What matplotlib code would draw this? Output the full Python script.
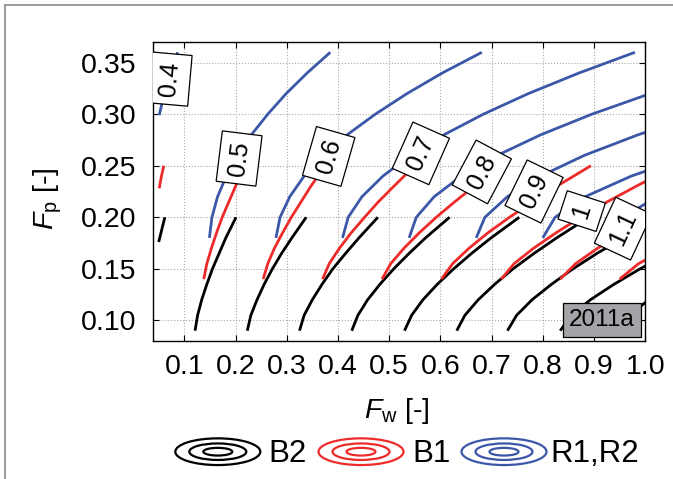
import numpy as np
import matplotlib
matplotlib.use("Agg")
import matplotlib.pyplot as plt
from matplotlib.patches import Ellipse

plt.rcParams['font.family'] = ['Liberation Sans', 'DejaVu Sans']
plt.rcParams['mathtext.fontset'] = 'custom'
plt.rcParams['mathtext.rm'] = 'Liberation Sans'
plt.rcParams['mathtext.it'] = 'Liberation Sans:italic'

#%% --- data ---

# B2 (black) contours: common F_p samples, one F_w row per level
b2_levels = [0.5, 0.6, 0.7, 0.8, 0.9, 1.0, 1.1, 1.2, 1.3]
b2_fp = [0.090, 0.105, 0.120, 0.135, 0.150, 0.165, 0.180, 0.200]
b2_fw = [
    [0.121, 0.126, 0.134, 0.144, 0.155, 0.168, 0.181, 0.201],
    [0.223, 0.230, 0.242, 0.256, 0.272, 0.290, 0.310, 0.338],
    [0.325, 0.334, 0.350, 0.369, 0.390, 0.415, 0.441, 0.478],
    [0.427, 0.439, 0.458, 0.482, 0.509, 0.539, 0.571, 0.618],
    [0.530, 0.544, 0.566, 0.594, 0.626, 0.661, 0.699, 0.754],
    [0.632, 0.648, 0.674, 0.706, 0.742, 0.783, 0.827, 0.890],
    [0.731, 0.749, 0.779, 0.817, 0.859, 0.906, 0.957, 1.030],
    [0.834, 0.856, 0.893, 0.939, 0.990, 1.048, 1.110, 1.200],
    [0.945, 0.969, 1.007, 1.055, 1.109, 1.170, 1.236, 1.330],
]
# 0.4 contour, only the piece inside the data range
b2_04_fp = [0.176, 0.188, 0.200]
b2_04_fw = [0.050, 0.056, 0.062]

# B1 (red)
b1_levels = [0.5, 0.6, 0.7, 0.8, 0.9, 1.0, 1.1, 1.2]
b1_fp = [0.140, 0.155, 0.170, 0.185, 0.200, 0.215, 0.230, 0.250]
b1_fw = [
    [0.138, 0.144, 0.153, 0.163, 0.174, 0.187, 0.200, 0.218],
    [0.254, 0.263, 0.276, 0.292, 0.309, 0.328, 0.347, 0.375],
    [0.370, 0.383, 0.403, 0.426, 0.452, 0.479, 0.509, 0.550],
    [0.486, 0.503, 0.529, 0.559, 0.592, 0.628, 0.666, 0.720],
    [0.602, 0.624, 0.656, 0.693, 0.735, 0.780, 0.827, 0.894],
    [0.719, 0.744, 0.782, 0.826, 0.874, 0.926, 0.982, 1.060],
    [0.834, 0.864, 0.907, 0.958, 1.014, 1.075, 1.139, 1.230],
    [0.950, 0.987, 1.043, 1.107, 1.177, 1.254, 1.335, 1.450],
]
b1_04_fp = [0.228, 0.239, 0.250]
b1_04_fw = [0.051, 0.055, 0.060]

# R1,R2 (blue)
r_levels = [0.5, 0.6, 0.7, 0.8, 0.9, 1.0, 1.1]
r_fp = [0.18, 0.20, 0.22, 0.24, 0.26, 0.28, 0.30, 0.32, 0.34, 0.36]
r_fw = [
    [0.149, 0.154, 0.165, 0.182, 0.204, 0.231, 0.263, 0.299, 0.340, 0.385],
    [0.279, 0.287, 0.306, 0.334, 0.372, 0.418, 0.473, 0.535, 0.604, 0.681],
    [0.409, 0.420, 0.447, 0.488, 0.541, 0.607, 0.684, 0.772, 0.871, 0.980],
    [0.539, 0.553, 0.588, 0.641, 0.711, 0.796, 0.896, 1.010, 1.138, 1.280],
    [0.670, 0.687, 0.731, 0.796, 0.881, 0.986, 1.109, 1.249, 1.406, 1.580],
    [0.800, 0.824, 0.883, 0.973, 1.090, 1.234, 1.403, 1.595, 1.811, 2.050],
    [0.930, 0.957, 1.023, 1.123, 1.255, 1.416, 1.605, 1.820, 2.063, 2.330],
]
r_04_fp = [0.299, 0.320, 0.340, 0.360]
r_04_fw = [0.051, 0.061, 0.073, 0.087]

# contour labels
label_text = ['0.4', '0.5', '0.6', '0.7', '0.8', '0.9', '1', '1.1']
label_fw = [0.072, 0.207, 0.382, 0.562, 0.681, 0.783, 0.876, 0.957]
label_fp = [0.334, 0.257, 0.259, 0.262, 0.244, 0.225, 0.206, 0.189]
label_rot = [85, 83, 74, 66, 62, 64, 72, 65]

x_ticks = [0.1, 0.2, 0.3, 0.4, 0.5, 0.6, 0.7, 0.8, 0.9, 1.0]
y_ticks = [0.10, 0.15, 0.20, 0.25, 0.30, 0.35]

legend_names = ['B2', 'B1', 'R1,R2']

BLACK = 'black'
RED = '#ee2b2b'
BLUE = '#3b57a8'
legend_colors = [BLACK, RED, BLUE]

#%% --- figure ---
W, H = 673, 479
fig = plt.figure(figsize=(W / 100, H / 100), dpi=100)

# overlay in pixel coordinates for the legend and the outer frame
ov = fig.add_axes([0, 0, 1, 1], zorder=-1)
ov.set_xlim(0, W)
ov.set_ylim(H, 0)
ov.axis('off')
ov.plot([5, 5], [H, 5], color='#8a8a8a', lw=1.2)
ov.plot([5, W], [5, 5], color='#8a8a8a', lw=1.2)

ax = fig.add_axes([152.7 / W, 1 - 341 / H, (645.2 - 152.7) / W, (341 - 42) / H])

LW = 2.0
for fw in b2_fw:
    ax.plot(fw, b2_fp, color=BLACK, lw=LW, solid_capstyle='butt')
ax.plot(b2_04_fw, b2_04_fp, color=BLACK, lw=LW, solid_capstyle='butt')
for fw in b1_fw:
    ax.plot(fw, b1_fp, color=RED, lw=LW, solid_capstyle='butt')
ax.plot(b1_04_fw, b1_04_fp, color=RED, lw=LW, solid_capstyle='butt')
for fw in r_fw:
    ax.plot(fw, r_fp, color=BLUE, lw=LW, solid_capstyle='butt')
ax.plot(r_04_fw, r_04_fp, color=BLUE, lw=LW, solid_capstyle='butt')

for s, x, y, r in zip(label_text, label_fw, label_fp, label_rot):
    ax.text(x, y, s, rotation=r, rotation_mode='anchor', ha='center', va='center',
            fontsize=18, zorder=5, clip_on=True,
            bbox=dict(boxstyle='square,pad=0.32', fc='white', ec='black', lw=0.9))

ax.text(0.915, 0.1003, '2011a', ha='center', va='center', fontsize=17.5, zorder=6,
        bbox=dict(boxstyle='square,pad=0.25', fc='#a2a4a7', ec='black', lw=0.9))

ax.set_xlim(0.0383, 1.0)
ax.set_ylim(0.08, 0.37)
ax.set_xticks(x_ticks)
ax.set_yticks(y_ticks)
ax.set_xticklabels([f'{v:.1f}' for v in x_ticks])
ax.set_yticklabels([f'{v:.2f}' for v in y_ticks])
ax.tick_params(direction='in', length=4.3, width=0.8, top=True, right=True, labelsize=20.5)
ax.tick_params(axis='x', pad=9)
ax.tick_params(axis='y', pad=12)
ax.grid(True, linestyle=':', color='#a8a8a8', linewidth=0.8)
ax.set_axisbelow(True)
for sp in ax.spines.values():
    sp.set_linewidth(1.0)

ax.set_xlabel(r'$\mathit{F}_\mathrm{w}$ [-]', fontsize=20.5, va='center')
ax.set_ylabel(r'$\mathit{F}_\mathrm{p}$ [-]', fontsize=20.5, va='center', ha='center')
ax.xaxis.set_label_coords(0.496, -0.234)
ax.yaxis.set_label_coords(-0.212, 0.475)

# legend with concentric ellipses
leg_cx = [217.8, 361.0, 504.0]
leg_tx = [268.7, 412.7, 550.0]
for cx, tx, name, col in zip(leg_cx, leg_tx, legend_names, legend_colors):
    for ew, eh in [(85, 26.7), (57, 16.5), (29, 7.7)]:
        ov.add_patch(Ellipse((cx, 451.7), ew, eh, fill=False, ec=col, lw=1.6))
    ov.text(tx, 461.7, name, ha='left', va='baseline', fontsize=22.5)

fig.savefig('out.png', dpi=100)
